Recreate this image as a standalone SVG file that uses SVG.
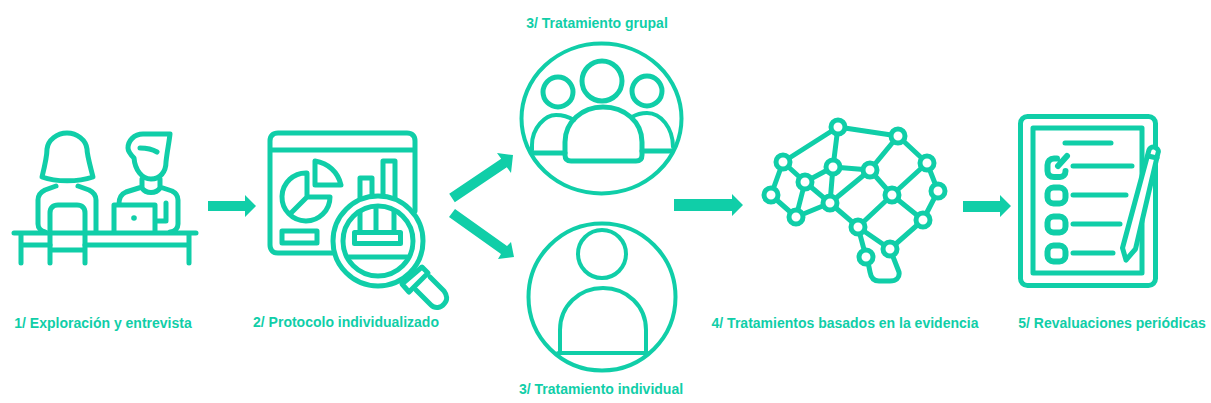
<svg xmlns="http://www.w3.org/2000/svg" width="1211" height="403" viewBox="0 0 1211 403">
<style>
.s{fill:none;stroke:#10cea8;stroke-width:5;stroke-linecap:round;stroke-linejoin:round}
.n{stroke-width:4}
.b{stroke-width:6}
.w{fill:#fff}
.f{fill:#10cea8}
.t{font-family:"Liberation Sans",Arial,sans-serif;font-weight:700;font-size:14px;fill:#10cea8;text-anchor:middle}
</style>
<rect width="1211" height="403" fill="#fff"/>
<g id="connectors">
<polygon class="f" points="208,201 245,201 245,195 256,206 245,217 245,211 208,211"/>
<polygon class="f" points="449.2,193.8 501.2,158.8 497,153 513,155 511,173 506.8,167.2 454.8,202.2"/>
<polygon class="f" points="449,217 501,254 498,259 514,257 511,242 507,246 455,209"/>
<polygon class="f" points="674,199 732,199 732,194 743,205 732,216 732,211 674,211"/>
<polygon class="f" points="963,201 1000,201 1000,195 1011,206 1000,217 1000,212 963,212"/>
</g>
<g id="node1">
<path class="s" d="M42,177C45,165 47,155 47,149C48,140 57,133 67,133C77,133 86,140 87,149C87,155 90,165 93,177C78,182 56,182 42,177Z"/>
<path class="s" d="M56,186L45,190C41,192 38,196 38,200V224C38,228 41,231 45,232M78,186L89,190C93,192 96,196 96,200V232"/>
<path class="s" d="M50,263V213C50,208 53,205 58,205H77C82,205 85,208 85,213V263M50,250H85"/>
<path class="s" d="M14,233H196M21,235V263M189,235V263M21,245H50M85,245H189"/>
<path class="s" d="M170,134H143C134,134 128,141 128,148C128,152 132,156 134,158C135,170 142,179 151,179C160,179 166,172 166,162C167,152 169,143 170,134Z"/>
<path class="s" d="M140,148C146,148 152,149 157,152"/>
<path class="s" d="M142,179V187L126,192C121,194 119,198 119,204M160,179V187L172,191C176,193 178,196 178,200V224C178,228 175,232 170,232M142,188C146,194 156,194 160,188"/>
<path class="s" d="M114,232V205H155V232M166,203V221H157"/>
<circle class="f" cx="134" cy="218" r="2.800"/>
</g>
<g id="node2">
<path class="s" d="M415,211V141C415,136 412,133 407,133H278C273,133 270,136 270,141V245C270,250 273,253 278,253H332M270,150H415"/>
<path class="s" d="M307,173A24,24 0 1,0 330,197H307ZM307,197L291,213"/>
<path class="s" d="M315,161V185H341C338,172 328,163 315,161Z"/>
<rect class="s" x="282" y="231" width="35" height="12"/>
<path class="s" d="M360,202V178H372V198M383,197V161H395V198"/>
<circle class="s w" cx="378" cy="241" r="45"/>
<circle class="s" cx="378" cy="241" r="35"/>
<path class="s" d="M360,212V232M376,207V232M394,212V232"/>
<rect class="s" x="354.500" y="232.500" width="46" height="11"/>
<path class="s" d="M349,257H407" stroke-linecap="butt"/>
<path class="s w" d="M422,267L428,273L409,292L402,284Z"/>
<path class="s" d="M416,290L431,305C435,309 441,308 444,304C448,300 447,295 444,291L430,277"/>
</g>
<g id="node3a">
<ellipse class="s n" cx="601.500" cy="118.500" rx="80" ry="75"/>
<circle class="s" cx="602" cy="81" r="20"/>
<circle class="s" cx="558" cy="92" r="15"/>
<circle class="s" cx="647" cy="91" r="15"/>
<path class="s n" d="M532,150V145C532,128 545,115 556,115C563,115 569,117 574,120"/>
<path class="s n" d="M632,117C637,114 642,113 647,113C661,113 673,128 673,147"/>
<path class="s" d="M533,153H565M642,151H672"/>
<path class="s" d="M565,142C565,122 582,107 603,107C625,107 642,122 642,142V155C642,159 640,161 636,161H571C567,161 565,159 565,155Z"/>
</g>
<g id="node3b">
<circle class="s n" cx="602" cy="297" r="73.500"/>
<circle class="s n" cx="602" cy="254" r="24"/>
<path class="s n" d="M560,353V330C560,306 579,288 603,288C627,288 646,306 646,330V353M558,353H648"/>
</g>
<g id="node4">
<path class="s" d="M838,127L898,136L870,170L833,167L838,127L783,162L805,182L833,167L830,203L805,182L796,217L771,195L783,162M796,217L830,203L870,170L892,195L927,163L898,136M927,163L938,191L923,220L892,195L858,227L830,203M923,220L890,249L858,227L866,257M890,249L899,272C900,278 896,281 890,281H879C874,281 871,278 870,272L868,262"/>
<circle class="s w" cx="838" cy="127" r="7"/>
<circle class="s w" cx="898" cy="136" r="7"/>
<circle class="s w" cx="783" cy="162" r="7"/>
<circle class="s w" cx="833" cy="167" r="7"/>
<circle class="s w" cx="870" cy="170" r="7"/>
<circle class="s w" cx="927" cy="163" r="7"/>
<circle class="s w" cx="805" cy="182" r="7"/>
<circle class="s w" cx="771" cy="195" r="7"/>
<circle class="s w" cx="892" cy="195" r="7"/>
<circle class="s w" cx="938" cy="191" r="7"/>
<circle class="s w" cx="830" cy="203" r="7"/>
<circle class="s w" cx="796" cy="217" r="7"/>
<circle class="s w" cx="923" cy="220" r="7"/>
<circle class="s w" cx="858" cy="227" r="7"/>
<circle class="s w" cx="890" cy="249" r="7"/>
<circle class="s w" cx="866" cy="257" r="7"/>
</g>
<g id="node5">
<rect class="s" x="1020.500" y="116.500" width="135" height="169" rx="7"/>
<rect class="s" x="1033" y="128" width="109" height="145" stroke-linecap="butt" stroke-linejoin="miter"/>
<path class="s" d="M1065,143H1111M1073,166H1132M1073,195H1126M1073,224H1120M1073,253H1113" stroke-linecap="butt"/>
<path class="s b" d="M1065.500,171C1065.500,175 1063,177 1060,177H1054C1050,177 1047.500,175 1047.500,171V165C1047.500,161 1050,158.500 1054,158.500H1057M1058,166L1067,156"/>
<rect class="s b" x="1047.500" y="187.500" width="18" height="16" rx="6"/>
<rect class="s b" x="1047.500" y="216.500" width="18" height="16" rx="6"/>
<rect class="s b" x="1047.500" y="245.500" width="18" height="16" rx="6"/>
<path class="s w" d="M1122.500,248L1149,150C1150,147 1154,146 1156,148C1158,149 1159,151 1158,153L1135.500,249L1126,260Z"/>
<path class="s" d="M1148,156L1157,158"/>
</g>
<g id="labels">
<text class="t" x="103" y="328">1/ Exploración y entrevista</text>
<text class="t" x="346" y="327">2/ Protocolo individualizado</text>
<text class="t" x="597" y="28">3/ Tratamiento grupal</text>
<text class="t" x="601" y="394">3/ Tratamiento individual</text>
<text class="t" x="845" y="328">4/ Tratamientos basados en la evidencia</text>
<text class="t" x="1112" y="328">5/ Revaluaciones periódicas</text>
</g>
</svg>
